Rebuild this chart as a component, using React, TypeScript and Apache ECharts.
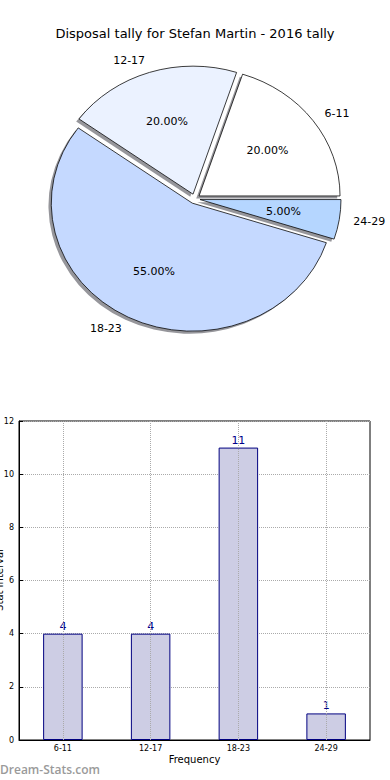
import React, { useEffect, useRef } from "react";
import * as echarts from "echarts";

const titleText = "Disposal tally for Stefan Martin - 2016 tally";
const yAxisTitle = "Stat Interval";
const pieLabels = ["6-11", "12-17", "18-23", "24-29"];
const pieValues = [4, 4, 11, 1];
const pieColors = ["#ffffff", "#ebf2ff", "#c5d9ff", "#b5d6ff"];

const barCategories = ["6-11", "12-17", "18-23", "24-29"];
const barValues = [4, 4, 11, 1];
const yTicks = [0, 2, 4, 6, 8, 10, 12];

const PIE_CX = 194.7;
const PIE_CY = 198.8;
const RX = 141;
const RY = 128;
const EXPLODE = 0.038;
const FONT = "DejaVu Sans";

const total = pieValues.reduce((a, b) => a + b, 0);
function sliceAngles(i: number) {
  let acc = 0;
  for (let k = 0; k < i; k++) acc += pieValues[k];
  const a0 = (acc / total) * Math.PI * 2;
  const a1 = ((acc + pieValues[i]) / total) * Math.PI * 2;
  return { a0, a1, mid: (a0 + a1) / 2 };
}

function makeRender(kind: "shadow" | "slice" | "label") {
  return (params: any, api: any) => {
    const i = params.dataIndex;
    const v = api.value(0);
    const { a0, a1, mid } = sliceAngles(i);
    const ox = EXPLODE * RX * Math.cos(mid);
    const oy = -EXPLODE * RY * Math.sin(mid);
    const gx = PIE_CX + ox;
    const gy = PIE_CY + oy;
    if (kind === "label") {
      const c = Math.cos(mid);
      const s = Math.sin(mid);
      const lx = gx + 1.1 * RX * c;
      const ly = gy - 1.1 * RY * s;
      const px = gx + 0.6 * RX * c;
      const py = gy - 0.6 * RY * s;
      const pct = ((v / total) * 100).toFixed(2) + "%";
      return {
        type: "group",
        children: [
          {
            type: "text",
            x: lx,
            y: ly,
            style: {
              text: pieLabels[i],
              fill: "#000",
              font: `11px "${FONT}"`,
              align: c > 0 ? "left" : "right",
              verticalAlign: "middle",
              textAlign: c > 0 ? "left" : "right",
              textVerticalAlign: "middle",
            },
          },
          {
            type: "text",
            x: px,
            y: py,
            style: {
              text: pct,
              fill: "#000",
              font: `11px "${FONT}"`,
              align: "center",
              verticalAlign: "middle",
              textAlign: "center",
              textVerticalAlign: "middle",
            },
          },
        ],
      };
    }
    const isShadow = kind === "shadow";
    return {
      type: "group",
      x: gx + (isShadow ? -2.8 : 0),
      y: gy + (isShadow ? 2.6 : 0),
      scaleY: RY / RX,
      children: [
        {
          type: "sector",
          shape: {
            cx: 0,
            cy: 0,
            r0: 0,
            r: RX,
            startAngle: -a1,
            endAngle: -a0,
            clockwise: true,
          },
          style: isShadow
            ? { fill: "rgba(45,45,55,0.5)", stroke: "none" }
            : {
                fill: pieColors[i],
                stroke: "#000",
                lineWidth: 0.8,
                strokeNoScale: true,
              },
        },
      ],
    };
  };
}

export default function App() {
  const ref = useRef<HTMLDivElement>(null);
  useEffect(() => {
    if (!ref.current) return;
    const chart = echarts.init(ref.current, null, { renderer: "svg" });
    const pieData = pieValues.map((v, i) => ({ value: [v], name: pieLabels[i] }));
    chart.setOption({
      animation: false,
      backgroundColor: "#ffffff",
      title: {
        text: titleText,
        left: "center",
        top: 22,
        textStyle: { fontFamily: FONT, fontSize: 13, fontWeight: "normal", color: "#000" },
      },
      grid: {
        left: 19,
        right: 20,
        top: 421,
        bottom: 40,
        outerBoundsMode: "none",
        containLabel: false,
        show: true,
        borderColor: "#000",
        borderWidth: 1,
        backgroundColor: "transparent",
      },
      xAxis: {
        type: "category",
        data: barCategories,
        name: "Frequency",
        nameLocation: "middle",
        nameGap: 14,
        nameTextStyle: { fontFamily: FONT, fontSize: 10, color: "#000", verticalAlign: "top" },
        axisLine: { show: true, lineStyle: { color: "#000", width: 1 } },
        axisTick: { show: false },
        axisLabel: { fontFamily: FONT, fontSize: 8, color: "#000", margin: 4 },
        splitLine: { show: false },
      },
      yAxis: {
        type: "value",
        min: yTicks[0],
        max: yTicks[yTicks.length - 1],
        interval: 2,
        axisLine: { show: true, lineStyle: { color: "#000", width: 1 } },
        axisTick: { show: true, inside: true, length: 4, lineStyle: { color: "#000" } },
        axisLabel: { fontFamily: FONT, fontSize: 8, color: "#000", margin: 5 },
        splitLine: { show: true, lineStyle: { type: "dotted", color: "#aaaaaa", width: 1 } },
      },
      graphic: [
        {
          type: "text",
          x: -1,
          y: 580,
          rotation: Math.PI / 2,
          style: {
            text: yAxisTitle,
            fill: "#000",
            font: `10px "${FONT}"`,
            align: "center",
            verticalAlign: "middle",
            textAlign: "center",
            textVerticalAlign: "middle",
          },
        },
        {
          type: "text",
          left: 0,
          top: 763,
          style: {
            text: "Dream-Stats.com",
            fill: "#9a9a9a",
            font: '600 12px "Open Sans"',
          },
        },
      ],
      series: [
        {
          type: "custom",
          coordinateSystem: "none",
          renderItem: makeRender("shadow"),
          data: pieData,
          silent: true,
          z: 1,
        },
        {
          type: "custom",
          coordinateSystem: "none",
          renderItem: makeRender("slice"),
          data: pieData,
          silent: true,
          z: 2,
        },
        {
          type: "custom",
          coordinateSystem: "none",
          renderItem: makeRender("label"),
          data: pieData,
          silent: true,
          z: 3,
        },
        {
          type: "bar",
          data: barValues,
          barWidth: "45%",
          itemStyle: { color: "#cdcde4", borderColor: "#000080", borderWidth: 1 },
          label: {
            show: true,
            position: "top",
            distance: 2,
            color: "#00008b",
            fontFamily: FONT,
            fontSize: 11,
          },
          markLine: {
            silent: true,
            symbol: ["none", "none"],
            label: { show: false },
            lineStyle: { type: "dotted", color: "#aaaaaa", width: 1 },
            data: barCategories.map((c) => ({ xAxis: c })),
          },
        },
      ],
    });
    return () => chart.dispose();
  }, []);
  return (
    <div
      ref={ref}
      style={{ position: "absolute", left: 0, top: 0, width: 390, height: 780 }}
    />
  );
}
